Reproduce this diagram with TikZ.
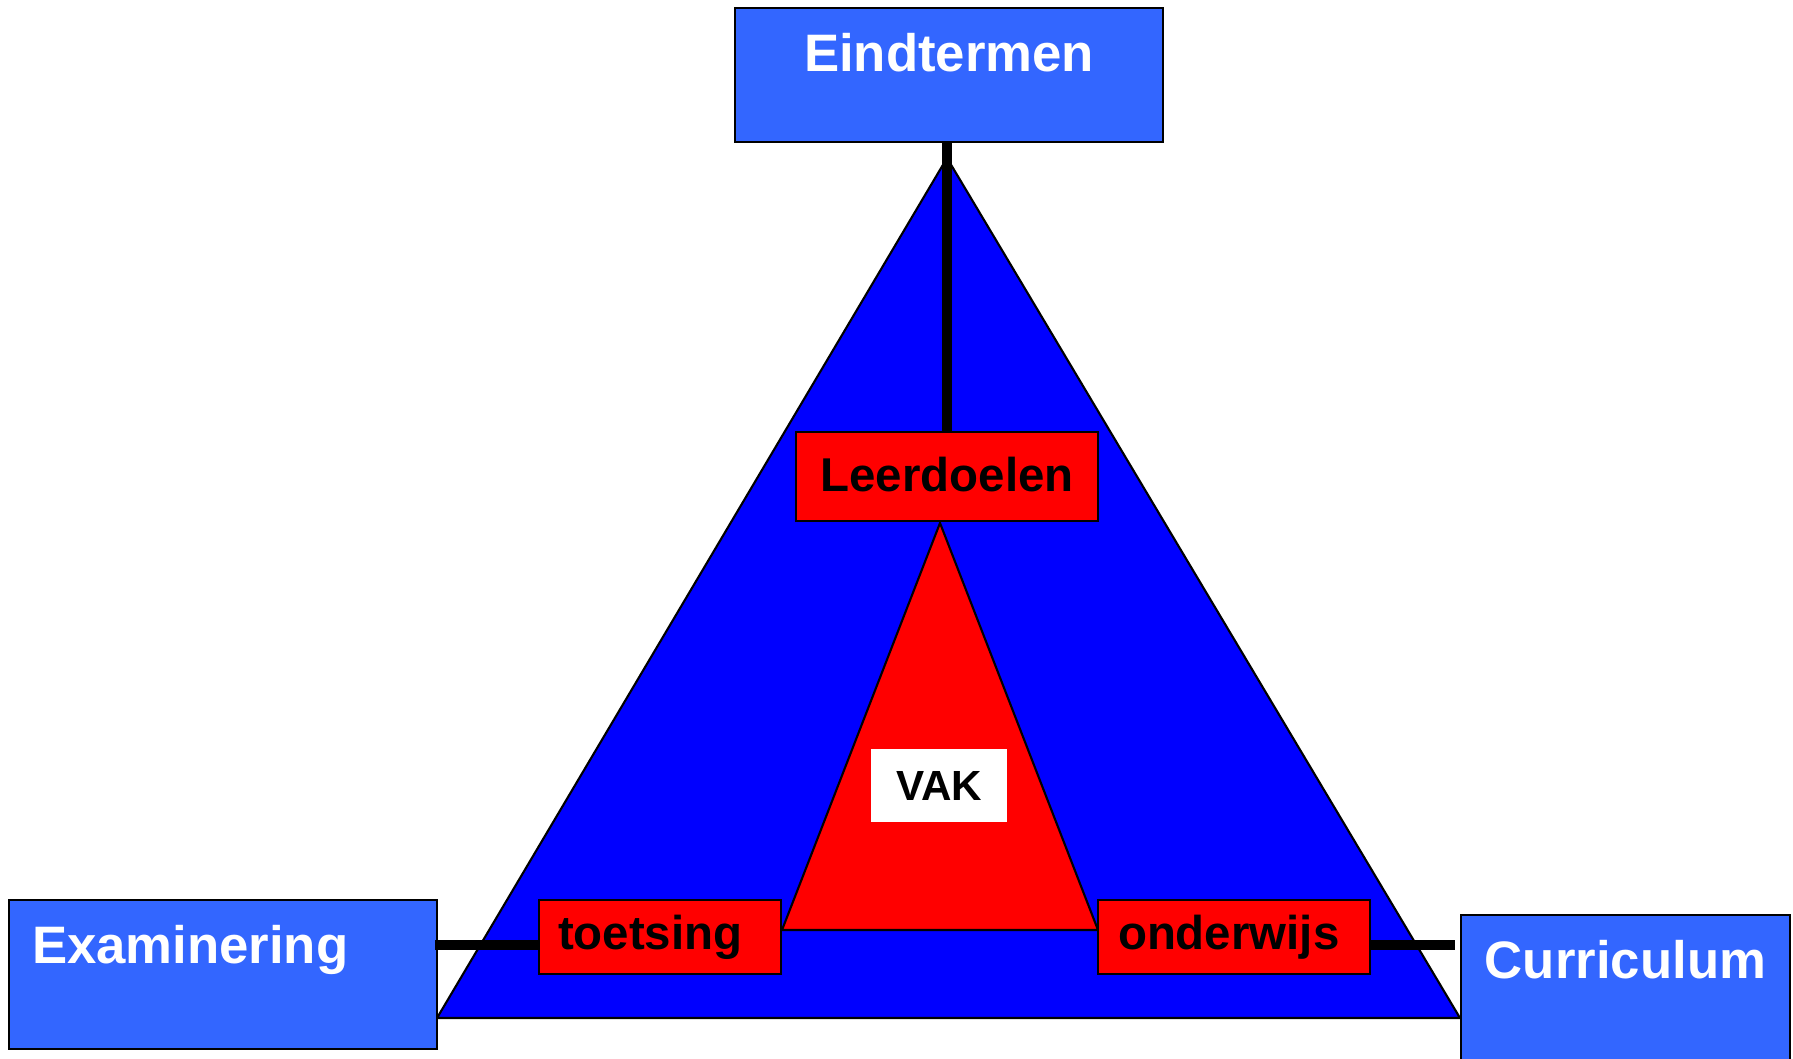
\documentclass[tikz,border=0pt]{standalone}
\usepackage{fontspec}
\setmainfont{Liberation Sans}
\usepackage{tikz}
\usetikzlibrary{calc}
\definecolor{boxblue}{HTML}{3366FF}
\definecolor{triblue}{HTML}{0000FF}
\definecolor{trired}{HTML}{FF0000}

\begin{document}
\begin{tikzpicture}[
    bluebox/.style={rectangle, draw=black, line width=0.7pt, fill=boxblue, text=white,
      font=\fontsize{15}{18}\selectfont\bfseries, inner sep=0pt, text height=0.63cm},
    redbox/.style={rectangle, draw=black, line width=0.7pt, fill=trired, text=black,
      font=\fontsize{13.5}{16}\selectfont\bfseries, inner sep=0pt},
    link/.style={line width=2.9pt}
  ]
  \useasboundingbox (0,0) rectangle (17.93,10.58);
  % big triangle
  \draw[fill=triblue, line width=0.6pt] (9.47,9.00) -- (4.37,0.40) -- (14.60,0.40) -- cycle;
  % small triangle
  \draw[fill=trired, line width=0.6pt] (9.40,5.35) -- (7.82,1.28) -- (10.98,1.28) -- cycle;

  \node[bluebox, minimum width=4.28cm, text depth=0.71cm] (eind) at (9.49,9.83) {Eindtermen};
  \node[bluebox, minimum width=4.28cm, text width=3.82cm, align=left, text depth=0.86cm] (exam) at (2.23,0.835) {Examinering};
  \node[bluebox, minimum width=3.29cm, text depth=0.82cm] (curr) at (16.255,0.705) {Curriculum};

  \node[redbox, minimum width=3.02cm, minimum height=0.89cm, text height=0.36cm, text depth=0.06cm] (leer) at (9.47,5.815) {Leerdoelen};
  \node[redbox, minimum width=2.42cm, minimum height=0.74cm, text width=2.04cm, align=left] (toets) at (6.60,1.21) {toetsing};
  \node[redbox, minimum width=2.72cm, minimum height=0.74cm, text width=2.32cm, align=left] (onder) at (12.34,1.21) {onderwijs};
  \node[fill=white, minimum width=1.36cm, minimum height=0.73cm, inner sep=0pt,
    font=\fontsize{12}{14}\selectfont\bfseries] (vak) at (9.39,2.725) {VAK};

  \draw[link] (leer.north) -- (leer.north |- eind.south);
  \draw[link] ($(exam.east |- toets.west)+(-0.03,-0.08)$) -- ($(toets.west)+(0,-0.08)$);
  \draw[link] ($(onder.east)+(0,-0.08)$) -- ($(curr.west |- onder.east)+(-0.05,-0.08)$);
\end{tikzpicture}
\end{document}
